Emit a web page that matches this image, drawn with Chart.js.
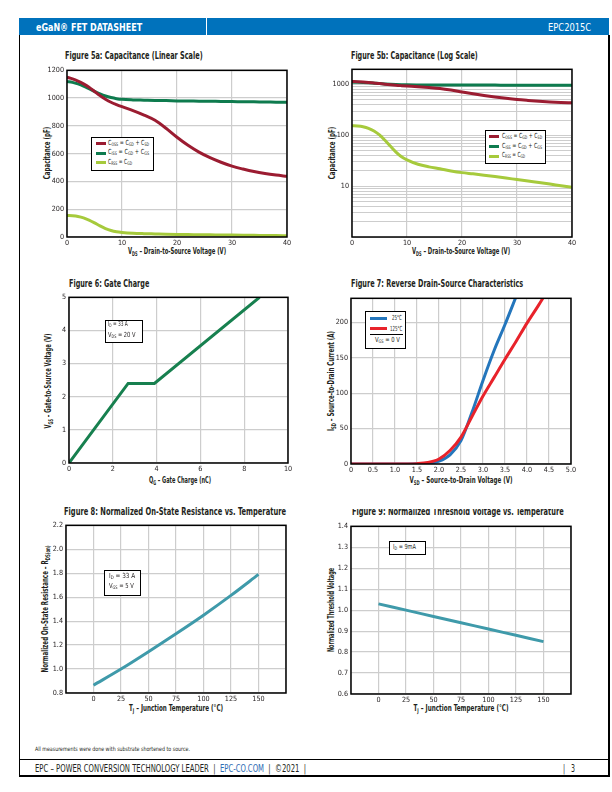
<!DOCTYPE html>
<html><head><meta charset="utf-8">
<script src="https://cdn.jsdelivr.net/npm/chart.js@4.4.0/dist/chart.umd.min.js"></script>
<style>
html,body{margin:0;padding:0}
body{width:612px;height:792px;position:relative;background:#fff;overflow:hidden;
 font-family:"Liberation Sans Narrow","DejaVu Sans Condensed","Arial Narrow",sans-serif;color:#231F20}
.a{position:absolute;white-space:nowrap;line-height:1}
.ttl{font-weight:bold;font-size:10.5px;transform-origin:0 50%}
.axt{font-weight:bold;font-size:9.5px}
.c{transform:translate(-50%,-50%)}
.s{font-size:0.68em;vertical-align:-0.25em}
.box{position:absolute;border:1px solid #000;background:#fff;box-sizing:border-box}
.lt{font-size:7px}
.sw{position:absolute;height:3px}
.ln{position:absolute;background:#000}
</style></head><body>

<!-- header -->
<div class="a" style="left:19px;top:18px;width:590px;height:17px;background:#0072BC"></div>
<div class="a" style="left:205.5px;top:18px;width:1.5px;height:17px;background:#fff"></div>
<div class="a fit" data-w="106" data-pre="translateY(-50%)" style="left:36px;top:26.5px;transform-origin:0 50%;color:#fff;font-weight:bold;font-size:11px">eGaN® FET DATASHEET</div>
<div class="a fit" data-w="43" data-pre="translateY(-50%)" style="left:548px;top:26.5px;transform-origin:0 50%;color:#fff;font-size:11px">EPC2015C</div>
<!-- frame -->
<div class="ln" style="left:18.5px;top:35px;width:1.5px;height:741px"></div>
<div class="ln" style="left:608px;top:35px;width:1.5px;height:741px"></div>
<div class="ln" style="left:18.5px;top:759px;width:591px;height:1px"></div>
<div class="ln" style="left:18.5px;top:775px;width:591px;height:1.5px"></div>

<!-- titles -->
<div class="a ttl fit" data-w="138" data-pre="translateY(-50%)" style="left:65px;top:55px">Figure 5a: Capacitance (Linear Scale)</div>
<div class="a ttl fit" data-w="127" data-pre="translateY(-50%)" style="left:351px;top:55px">Figure 5b: Capacitance (Log Scale)</div>
<div class="a ttl fit" data-w="80" data-pre="translateY(-50%)" style="left:69px;top:283px">Figure 6: Gate Charge</div>
<div class="a ttl fit" data-w="172" data-pre="translateY(-50%)" style="left:351px;top:282.5px">Figure 7: Reverse Drain-Source Characteristics</div>
<div class="a ttl fit" data-w="222" data-pre="translateY(-50%)" style="left:63.5px;top:510.5px">Figure 8: Normalized On-State Resistance vs. Temperature</div>
<div class="a" style="left:340px;top:509px;width:240px;height:8px;overflow:hidden">
 <div class="a ttl fit" data-w="212" data-pre="translateY(-50%)" style="left:12px;top:1.7px">Figure 9: Normalized Threshold Voltage vs. Temperature</div>
</div>

<!-- axis titles -->
<div class="a axt c fit" data-w="98" data-pre="translate(-50%,-50%)" style="left:177px;top:252px">V<span class="s">DS</span> – Drain-to-Source Voltage (V)</div>
<div class="a axt c fit" data-w="52" data-pre="translate(-50%,-50%) rotate(-90deg)" style="left:47px;top:153px">Capacitance (pF)</div>
<div class="a axt c fit" data-w="98" data-pre="translate(-50%,-50%)" style="left:461px;top:252px">V<span class="s">DS</span> – Drain-to-Source Voltage (V)</div>
<div class="a axt c fit" data-w="52" data-pre="translate(-50%,-50%) rotate(-90deg)" style="left:332px;top:153px">Capacitance (pF)</div>

<div class="a axt c fit" data-w="62" data-pre="translate(-50%,-50%)" style="left:180px;top:480.5px">Q<span class="s">G</span> – Gate Charge (nC)</div>
<div class="a axt c fit" data-w="95" data-pre="translate(-50%,-50%) rotate(-90deg)" style="left:48.5px;top:381px">V<span class="s">GS</span> – Gate-to-Source Voltage (V)</div>
<div class="a axt c fit" data-w="103" data-pre="translate(-50%,-50%)" style="left:461px;top:480.5px">V<span class="s">SD</span> – Source-to-Drain Voltage (V)</div>
<div class="a axt c fit" data-w="100" data-pre="translate(-50%,-50%) rotate(-90deg)" style="left:332px;top:381px">I<span class="s">SD</span> – Source-to-Drain Current (A)</div>

<div class="a axt c fit" data-w="94" data-pre="translate(-50%,-50%)" style="left:176px;top:708.5px">T<span class="s">J</span> – Junction Temperature (°C)</div>
<div class="a axt c fit" data-w="127" data-pre="translate(-50%,-50%) rotate(-90deg)" style="left:45.5px;top:609px">Normalized On-State Resistance – R<span class="s">DS(on)</span></div>
<div class="a axt c fit" data-w="95" data-pre="translate(-50%,-50%)" style="left:461px;top:708.5px">T<span class="s">J</span> – Junction Temperature (°C)</div>
<div class="a axt c fit" data-w="84" data-pre="translate(-50%,-50%) rotate(-90deg)" style="left:330.5px;top:610px">Normalized Threshold Voltage</div>

<!-- footer -->
<div class="a fit" data-w="155" data-pre="translateY(-50%)" style="left:35px;top:749px;font-size:6px;transform-origin:0 50%">All measurements were done with substrate shortened to source.</div>
<div class="a fit" data-w="271" data-pre="translateY(-50%)" style="left:35px;top:767.5px;font-size:10.5px;transform-origin:0 50%">EPC – POWER CONVERSION TECHNOLOGY LEADER &nbsp;|&nbsp; <span style="color:#2E6DB4">EPC-CO.COM</span> &nbsp;|&nbsp; ©2021 &nbsp;|</div>
<div class="a fit" data-w="12" data-pre="translateY(-50%)" style="left:563px;top:767.5px;font-size:10.5px;transform-origin:0 50%">|&nbsp;&nbsp; 3</div>

<div id="overlays"></div>

<script>
// ---------- DATA ----------
const capVds = [0,1,2,3,4,5,6,7,8,9,10,12,14,16,18,20,22,24,26,28,30,32,34,36,38,40];
const cossPf = [1150,1138,1122,1102,1078,1048,1018,992,970,953,938,910,878,840,783,718,660,611,571,538,510,489,471,457,446,437];
const cissPf = [1120,1113,1102,1087,1068,1048,1030,1015,1004,996,991,987,985,983,982,980,979,978,977,976,975,974,973,972,971,970];
const crssPf = [155,153,148,138,122,102,80,61,47,38,33,27,24,22,20,18.5,17.5,16.5,15.5,14.5,13.5,12.6,11.8,11,10.2,9.5];
const capLogGrid = [1,2,3,4,5,6,7,8,9,10,20,30,40,50,60,70,80,90,100,200,300,400,500,600,700,800,900,1000,2000];
const capLogLabels = [10,100,1000];
const capLegend = [['C','OSS',' = C','GD',' + C','SD'],['C','ISS',' = C','GD',' + C','GS'],['C','RSS',' = C','GD']];

const gateQg = [0, 2.7, 3.9, 8.7];
const gateVgs = [0, 2.4, 2.4, 5.0];

const rev25Vsd  = [0, 0.5, 1.0, 1.5, 1.75, 2.0, 2.25, 2.5, 2.75, 3.0, 3.25, 3.5, 3.75];
const rev25Isd  = [0, 0, 0, 0.3, 1, 4, 13, 33, 73, 118, 160, 197, 236];
const rev125Vsd = [0, 0.5, 1.0, 1.5, 1.75, 2.0, 2.25, 2.5, 2.75, 3.0, 3.25, 3.5, 3.75, 4.0, 4.25, 4.4];
const rev125Isd = [0, 0, 0, 0.5, 2, 7, 19, 38, 67, 96, 122, 148, 173, 199, 223, 238];
const revLegend = ['25°C','125°C'];

const tempTj = [0, 25, 50, 75, 100, 125, 150];
const rdsNorm = [0.865, 1.0, 1.145, 1.295, 1.45, 1.615, 1.79];
const vthNorm = [1.03, 1.0, 0.97, 0.94, 0.91, 0.88, 0.85];

// ---------- STYLE ----------
const FONT = "'Liberation Sans Narrow','DejaVu Sans Condensed',sans-serif";
const COL = {coss:'#9B1C31', ciss:'#0E7B4E', crss:'#A6CA3C', gate:'#17804F', t25:'#2476BC', t125:'#E8232B', teal:'#3F9AAA'};
const YW=34, XH=16, PT=7, PR=12;

const framePlugin = {id:'frame', afterDatasetsDraw(ch){
  const {ctx, chartArea:a} = ch; ctx.save(); ctx.strokeStyle='#000'; ctx.lineWidth=1.5;
  ctx.strokeRect(a.left, a.top, a.right-a.left, a.bottom-a.top); ctx.restore(); }};

function ds(xs, ys, color, extra){
  return Object.assign({data: xs.map((x,i)=>({x:x, y:ys[i]})), borderColor: color, backgroundColor: color,
    borderWidth: 3, pointRadius: 0, fill: false, cubicInterpolationMode: 'monotone', borderCapStyle:'butt'}, extra||{});
}
function scale(o){
  const base = {type:'linear', grid:{color:'#CDCDCD', lineWidth:1.2, drawTicks:false}, border:{display:false},
    ticks:{font:{family:FONT, size:7.2}, color:'#231F20', padding:3, autoSkip:false, maxRotation:0, callback: v => String(v)}};
  const r = Object.assign({}, base, o);
  r.ticks = Object.assign({}, base.ticks, o.ticks||{});
  r.grid = Object.assign({}, base.grid, o.grid||{});
  return r;
}
function makeChart(area, datasets, xs, ys){
  const c = document.createElement('canvas');
  const w = area.R - area.L + YW + PR, h = area.B - area.T + PT + XH;
  c.width = w; c.height = h;
  c.style.cssText = 'position:absolute;left:'+(area.L-YW)+'px;top:'+(area.T-PT)+'px;width:'+w+'px;height:'+h+'px';
  document.body.insertBefore(c, document.getElementById('overlays'));
  xs.afterFit = s => { s.height = XH; };
  ys.afterFit = s => { s.width = YW; };
  xs.ticks.padding = 2;
  return new Chart(c, {type:'line', data:{datasets}, options:{
    responsive:false, animation:false, devicePixelRatio:1, events:[],
    layout:{padding:{top:PT, right:PR, left:0, bottom:0}, autoPadding:false},
    plugins:{legend:{display:false}, tooltip:{enabled:false}, title:{display:false}},
    scales:{x:xs, y:ys}}, plugins:[framePlugin]});
}

// Fig 5a
makeChart({L:67,R:287,T:70,B:237},
  [ds(capVds,cossPf,COL.coss), ds(capVds,cissPf,COL.ciss), ds(capVds,crssPf,COL.crss)],
  scale({min:0,max:40,ticks:{stepSize:10}}),
  scale({min:0,max:1200,ticks:{stepSize:200}}));
// Fig 5b
makeChart({L:352,R:572,T:69,B:237},
  [ds(capVds,cossPf,COL.coss), ds(capVds,cissPf,COL.ciss), ds(capVds,crssPf,COL.crss)],
  scale({min:0,max:40,ticks:{stepSize:10}}),
  scale({type:'logarithmic',min:1,max:2000,grid:{lineWidth:1},
    afterBuildTicks: s => { s.ticks = capLogGrid.map(v=>({value:v})); },
    ticks:{callback: v => capLogLabels.includes(v) ? String(v) : ''}}));
// Fig 6
makeChart({L:69,R:288,T:297,B:463},
  [ds(gateQg,gateVgs,COL.gate,{cubicInterpolationMode:'default', tension:0, borderJoinStyle:'miter'})],
  scale({min:0,max:10,ticks:{stepSize:2}}),
  scale({min:0,max:5,ticks:{stepSize:1}}));
// Fig 7
makeChart({L:351,R:571,T:298,B:464},
  [ds(rev125Vsd,rev125Isd,COL.t125), ds(rev25Vsd,rev25Isd,COL.t25)],
  scale({min:0,max:5,ticks:{stepSize:0.5, callback: v => v===0 ? '0' : v.toFixed(1)}}),
  scale({min:0,max:234,ticks:{stepSize:50, includeBounds:false}}));
// Fig 8
makeChart({L:66,R:286,T:525,B:693},
  [ds(tempTj,rdsNorm,COL.teal)],
  scale({min:-25,max:175,ticks:{stepSize:25, callback: v => (v<0||v>150) ? '' : String(v)}}),
  scale({min:0.8,max:2.2,ticks:{stepSize:0.2, callback: v => v.toFixed(1)}}));
// Fig 9
makeChart({L:351,R:571,T:526,B:694},
  [ds(tempTj,vthNorm,COL.teal)],
  scale({min:-25,max:175,ticks:{stepSize:25, callback: v => (v<0||v>150) ? '' : String(v)}}),
  scale({min:0.6,max:1.4,ticks:{stepSize:0.1, callback: v => v.toFixed(1)}}));

// ---------- overlays: legends & condition boxes ----------
const ov = document.getElementById('overlays');
function add(html){ ov.insertAdjacentHTML('beforeend', html); }
function sub(parts){ return parts.map((p,i)=> i%2 ? '<span class="s">'+p+'</span>' : p).join(''); }
function legendCap(L, T, W, H, rows, swX, swW, txX, txW){
  add('<div class="box" style="left:'+L+'px;top:'+T+'px;width:'+W+'px;height:'+H+'px"></div>');
  const cols = [COL.coss, COL.ciss, COL.crss];
  capLegend.forEach((parts,i)=>{
    add('<div class="sw" style="left:'+swX+'px;top:'+(rows[i]-1.5)+'px;width:'+swW+'px;background:'+cols[i]+'"></div>');
    add('<div class="a lt fit" data-w="'+(txW[i])+'" data-pre="translateY(-50%)" style="left:'+txX+'px;top:'+rows[i]+'px;transform-origin:0 50%">'+sub(parts)+'</div>');
  });
}
legendCap(91,137,62.5,33.5,[143.5,153,162.5],96,9.5,107.5,[41,41,24]);
legendCap(484.5,129.5,61.5,34,[136.5,146.5,156],488.5,10.5,502,[40,40,23]);

function condBox(L,T,W,H,lines){
  add('<div class="box" style="left:'+L+'px;top:'+T+'px;width:'+W+'px;height:'+H+'px"></div>');
  lines.forEach(l=> add('<div class="a lt fit" data-w="'+l.w+'" data-pre="translateY(-50%)" style="left:'+l.x+'px;top:'+l.y+'px;transform-origin:0 50%">'+l.h+'</div>'));
}
condBox(105,319.5,38,23,[{x:107.5,y:325,w:20,h:sub(['I','D',' = 33 A'])},{x:107.5,y:335.5,w:27.5,h:sub(['V','DS',' = 20 V'])}]);
condBox(104,570,36.5,25.5,[{x:109,y:577,w:26.5,h:sub(['I','D',' = 33 A'])},{x:109,y:587,w:25,h:sub(['V','GS',' = 5 V'])}]);
condBox(388.5,541,37,14,[{x:393,y:548,w:23,h:sub(['I','D',' = 9mA'])}]);

// Fig 7 legend
add('<div class="box" style="left:364.5px;top:311px;width:41px;height:38px"></div>');
add('<div class="sw" style="left:369.5px;top:316.5px;width:17px;background:'+COL.t25+'"></div>');
add('<div class="sw" style="left:369.5px;top:327px;width:17px;background:'+COL.t125+'"></div>');
add('<div class="a lt fit" data-w="10" data-pre="translateY(-50%)" style="left:392px;top:318px;transform-origin:0 50%">'+revLegend[0]+'</div>');
add('<div class="a lt fit" data-w="12.5" data-pre="translateY(-50%)" style="left:390px;top:328.5px;transform-origin:0 50%">'+revLegend[1]+'</div>');
add('<div class="ln" style="left:369.5px;top:334px;width:33px;height:0.8px"></div>');
add('<div class="a lt fit" data-w="25" data-pre="translateY(-50%)" style="left:375px;top:341px;transform-origin:0 50%">'+sub(['V','GS',' = 0 V'])+'</div>');

// ---------- fit text widths ----------
function fitAll(){
  document.querySelectorAll('.fit').forEach(el=>{
    const pre = el.dataset.pre || '';
    el.style.transform = pre;
    const nat = el.offsetWidth;
    const k = (+el.dataset.w) / nat;
    el.style.transform = pre + ' scaleX(' + k.toFixed(4) + ')';
  });
}
fitAll();
if (document.fonts && document.fonts.ready) document.fonts.ready.then(fitAll);
</script>
</body></html>
